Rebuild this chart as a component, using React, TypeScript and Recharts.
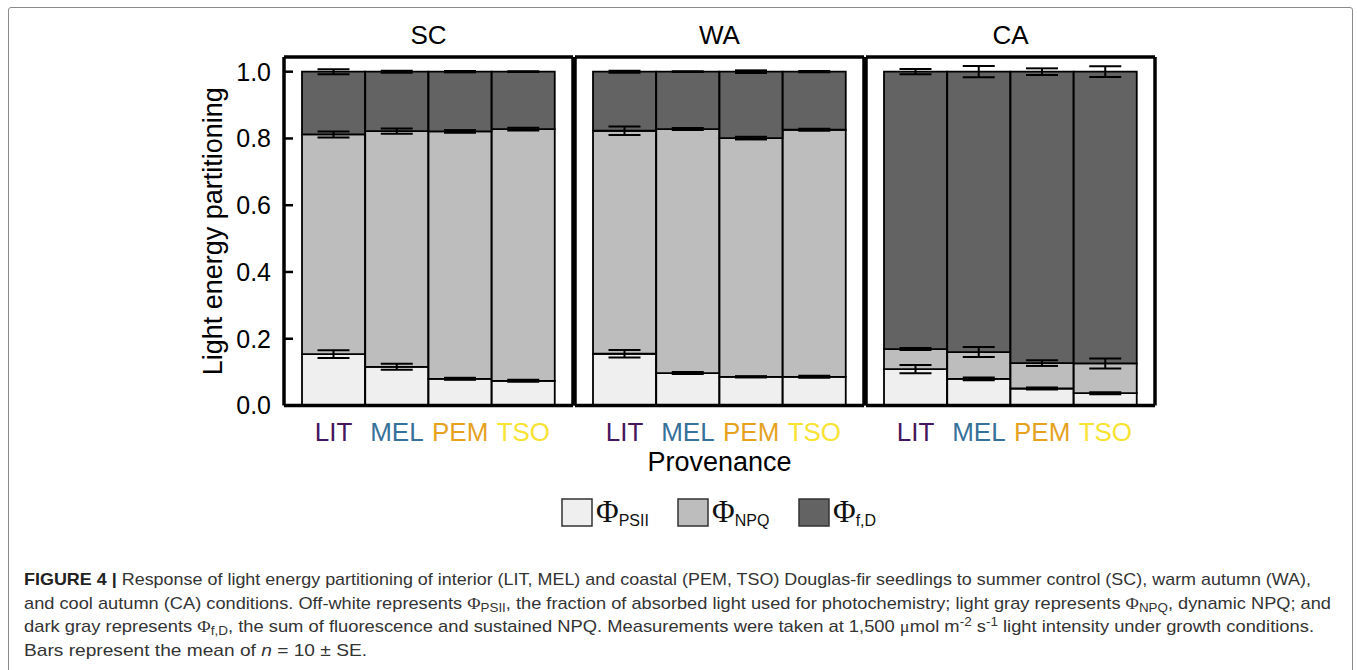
import React from 'react';
import { BarChart, Bar, XAxis, YAxis, ErrorBar, Legend } from 'recharts';

const FONT = '"Liberation Sans", Arial, Helvetica, sans-serif';

const provenances = ['LIT', 'MEL', 'PEM', 'TSO'];
const provenanceColors = ['#46175c', '#37719a', '#e6a21f', '#f8e232'];
const conditions = ['SC', 'WA', 'CA'];
const yTicks = [0, 0.2, 0.4, 0.6, 0.8, 1.0];
const legendOrder = ['PSII', 'NPQ', 'f,D'];

// segment means (Φf,D is the remainder up to 1) and SE
const psiiSC = [0.154, 0.116, 0.080, 0.074];
const npqSC = [0.658, 0.706, 0.741, 0.754];
const psiiErrSC = [0.0115, 0.009, 0.003, 0.003];
const npqErrSC = [0.009, 0.008, 0.004, 0.004];
const fdErrSC = [0.0075, 0.003, 0.002, 0.001];

const psiiWA = [0.155, 0.097, 0.086, 0.086];
const npqWA = [0.668, 0.731, 0.715, 0.740];
const psiiErrWA = [0.011, 0.003, 0.002, 0.003];
const npqErrWA = [0.0125, 0.003, 0.004, 0.003];
const fdErrWA = [0.003, 0.001, 0.004, 0.002];

const psiiCA = [0.109, 0.080, 0.051, 0.037];
const npqCA = [0.060, 0.080, 0.076, 0.089];
const psiiErrCA = [0.0125, 0.004, 0.003, 0.003];
const npqErrCA = [0.003, 0.015, 0.0085, 0.015];
const fdErrCA = [0.008, 0.017, 0.01, 0.016];

const buildRows = (psii: number[], npq: number[], psiiErr: number[], npqErr: number[], fdErr: number[]) =>
  provenances.map((p, i) => ({
    prov: p,
    psii: psii[i],
    npq: npq[i],
    fd: 1 - psii[i] - npq[i],
    psiiErr: psiiErr[i],
    npqErr: npqErr[i],
    fdErr: fdErr[i],
  }));

const panels = [
  { title: conditions[0], rows: buildRows(psiiSC, npqSC, psiiErrSC, npqErrSC, fdErrSC), plotLeft: 284 },
  { title: conditions[1], rows: buildRows(psiiWA, npqWA, psiiErrWA, npqErrWA, fdErrWA), plotLeft: 575 },
  { title: conditions[2], rows: buildRows(psiiCA, npqCA, psiiErrCA, npqErrCA, fdErrCA), plotLeft: 866 },
];

const PLOT_W = 289;
const PLOT_TOP = 57;
const PLOT_BOTTOM = 405.5;
const Y_MAX = 1.044;
const CHART_H = 560;
const X_AXIS_H = 70;
const BORDER = { stroke: '#000', strokeWidth: 3.5 };

const ProvenanceTick = ({ x, y, payload }: any) => (
  <text
    x={x}
    y={y}
    dy={35.5}
    textAnchor="middle"
    fontSize={26}
    fontFamily={FONT}
    fill={provenanceColors[provenances.indexOf(payload.value)]}
  >
    {payload.value}
  </text>
);

const legendOffsets = [0, 116, 237];

const renderLegend = ({ payload }: any) => {
  const items = [...(payload || [])].sort(
    (a: any, b: any) => legendOrder.indexOf(a.value) - legendOrder.indexOf(b.value)
  );
  return (
    <svg width={360} height={44} style={{ overflow: 'visible' }}>
      {items.map((entry: any, i: number) => (
        <g key={entry.value}>
          <rect x={legendOffsets[i] + 1} y={2} width={30} height={27} fill={entry.color} stroke="#333" strokeWidth={1.5} />
          <text x={legendOffsets[i] + 35} y={24.5} fill="#111">
            <tspan fontFamily='"Liberation Serif", "Times New Roman", serif' fontSize={31}>Φ</tspan>
            <tspan fontFamily={FONT} fontSize={16} dy={4}>{entry.value}</tspan>
          </text>
        </g>
      ))}
    </svg>
  );
};

const yLabel = ({ viewBox }: any) => {
  const cx = viewBox.x + 72;
  const cy = viewBox.y + viewBox.height / 2;
  return (
    <text x={cx} y={cy} transform={`rotate(-90 ${cx} ${cy})`} textAnchor="middle" fontSize={27} fontFamily={FONT} fill="#000">
      Light energy partitioning
    </text>
  );
};

function Panel({ title, rows, plotLeft, index }: any) {
  const first = index === 0;
  const yW = first ? 134 : 1;
  const ml = first ? 0 : 4;
  const width = ml + yW + PLOT_W + 1 + 4;
  const mb = CHART_H - PLOT_BOTTOM - X_AXIS_H;
  const chartLeft = plotLeft - yW - ml;
  return (
    <div style={{ position: 'absolute', left: chartLeft, top: 0 }}>
      <BarChart
        width={width}
        height={CHART_H}
        data={rows}
        margin={{ top: PLOT_TOP - 1, right: 4, bottom: mb, left: ml }}
        barCategoryGap={0}
      >
        <XAxis
          dataKey="prov"
          height={X_AXIS_H}
          padding={{ left: 18, right: 18 }}
          axisLine={BORDER}
          tickLine={false}
          tickSize={0}
          tickMargin={0}
          tick={<ProvenanceTick />}
          interval={0}
          label={
            index === 1
              ? { value: 'Provenance', position: 'insideBottom', offset: 4.5, fill: '#000', fontSize: 27, fontFamily: FONT }
              : undefined
          }
        />
        <XAxis
          xAxisId="top"
          orientation="top"
          dataKey="prov"
          height={1}
          tick={false}
          tickLine={false}
          axisLine={BORDER}
          label={{ value: title, position: 'top', offset: 12, fill: '#000', fontSize: 26, fontFamily: FONT }}
        />
        <YAxis
          type="number"
          domain={[0, Y_MAX]}
          allowDataOverflow
          width={yW}
          ticks={first ? yTicks : undefined}
          tick={first ? { fill: '#000', fontSize: 25, fontFamily: FONT } : false}
          tickFormatter={(v: number) => v.toFixed(1)}
          tickLine={first ? { stroke: '#000', strokeWidth: 2.5 } : false}
          tickSize={-9}
          tickMargin={22}
          axisLine={BORDER}
          label={first ? { content: yLabel } : undefined}
        />
        <YAxis
          yAxisId="r"
          orientation="right"
          type="number"
          domain={[0, Y_MAX]}
          width={1}
          tick={false}
          tickLine={false}
          axisLine={BORDER}
        />
        <Bar dataKey="psii" name="PSII" stackId="a" fill="#efefef" stroke="#000" strokeWidth={1.8} isAnimationActive={false}>
          <ErrorBar dataKey="psiiErr" width={16} strokeWidth={2} stroke="#000" direction="y" isAnimationActive={false} />
        </Bar>
        <Bar dataKey="npq" name="NPQ" stackId="a" fill="#bdbdbd" stroke="#000" strokeWidth={1.8} isAnimationActive={false}>
          <ErrorBar dataKey="npqErr" width={16} strokeWidth={2} stroke="#000" direction="y" isAnimationActive={false} />
        </Bar>
        <Bar dataKey="fd" name="f,D" stackId="a" fill="#636363" stroke="#000" strokeWidth={1.8} isAnimationActive={false}>
          <ErrorBar dataKey="fdErr" width={16} strokeWidth={2} stroke="#000" direction="y" isAnimationActive={false} />
        </Bar>
        {index === 1 && (
          <Legend
            layout="vertical"
            align="center"
            verticalAlign="middle"
            content={renderLegend}
            wrapperStyle={{ top: 497, left: 561 - chartLeft, width: 360, height: 44 }}
          />
        )}
      </BarChart>
    </div>
  );
}

const serif = '"Liberation Serif", "Times New Roman", serif';
const captionFont = '"Liberation Sans Narrow", "Liberation Sans", Arial, sans-serif';

function Caption() {
  return (
    <svg width={1357} height={110} style={{ position: 'absolute', left: 0, top: 560 }}>
      <g fontFamily={captionFont} fontSize={17} fill="#333">
        <text x={24} y={25} textLength={1287} lengthAdjust="spacingAndGlyphs">
          <tspan fontWeight="bold" fill="#222">FIGURE 4 |</tspan>
          {' Response of light energy partitioning of interior (LIT, MEL) and coastal (PEM, TSO) Douglas-fir seedlings to summer control (SC), warm autumn (WA),'}
        </text>
        <text x={24} y={48.5} textLength={1307} lengthAdjust="spacingAndGlyphs">
          {'and cool autumn (CA) conditions. Off-white represents '}
          <tspan fontFamily={serif}>Φ</tspan>
          <tspan fontSize={12.5} dy={3}>PSII</tspan>
          <tspan dy={-3}>{', the fraction of absorbed light used for photochemistry; light gray represents '}</tspan>
          <tspan fontFamily={serif}>Φ</tspan>
          <tspan fontSize={12.5} dy={3}>NPQ</tspan>
          <tspan dy={-3}>{', dynamic NPQ; and'}</tspan>
        </text>
        <text x={24} y={72} textLength={1290} lengthAdjust="spacingAndGlyphs">
          {'dark gray represents '}
          <tspan fontFamily={serif}>Φ</tspan>
          <tspan fontSize={12.5} dy={3}>f,D</tspan>
          <tspan dy={-3}>{', the sum of fluorescence and sustained NPQ. Measurements were taken at 1,500 '}</tspan>
          <tspan fontFamily={serif}>μ</tspan>
          <tspan>{'mol m'}</tspan>
          <tspan fontSize={12.5} dy={-6}>-2</tspan>
          <tspan dy={6}>{' s'}</tspan>
          <tspan fontSize={12.5} dy={-6}>-1</tspan>
          <tspan dy={6}>{' light intensity under growth conditions.'}</tspan>
        </text>
        <text x={24} y={95.5} textLength={343} lengthAdjust="spacingAndGlyphs">
          {'Bars represent the mean of '}
          <tspan fontStyle="italic">n</tspan>
          {' = 10 ± SE.'}
        </text>
      </g>
    </svg>
  );
}

export default function App() {
  return (
    <div style={{ position: 'relative', width: 1357, height: 670, overflow: 'hidden', background: '#fff' }}>
      <style>{'body{margin:0;}'}</style>
      <div
        style={{
          position: 'absolute',
          left: 8,
          top: 6.5,
          width: 1345,
          height: 720,
          border: '1.5px solid #8a8a8a',
          borderRadius: 3,
          boxSizing: 'border-box',
        }}
      />
      {panels.map((p, i) => (
        <Panel key={p.title} title={p.title} rows={p.rows} plotLeft={p.plotLeft} index={i} />
      ))}
      <Caption />
    </div>
  );
}
